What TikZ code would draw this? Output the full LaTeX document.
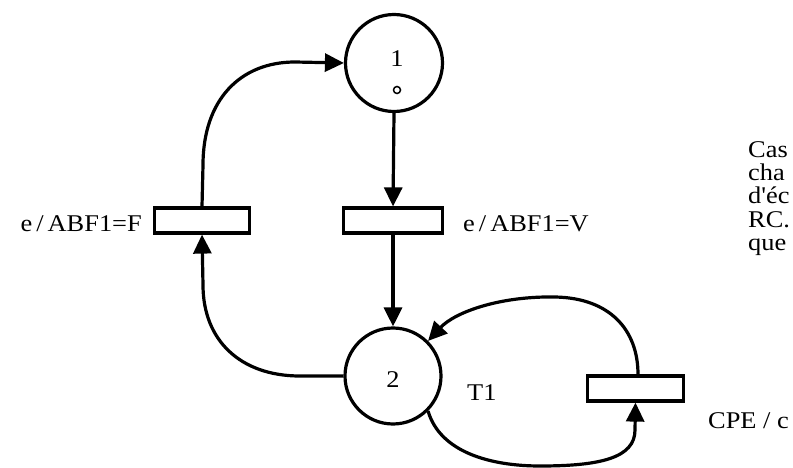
\documentclass[tikz,border=0pt]{standalone}
\usepackage{fontspec}
\setmainfont{Liberation Serif}[FakeStretch=1.1]
\newfontfamily\plainserif{Liberation Serif}[FakeStretch=1.1]
\usetikzlibrary{arrows.meta}
\tikzset{
  place/.style={circle, draw, line width=3.2pt, inner sep=0pt},
  trans/.style={rectangle, draw, line width=3.2pt, minimum height=25pt, inner sep=0pt},
  arr/.style={line width=3.2pt, -{Triangle[length=19pt,width=18pt]}},
  lbl/.style={inner sep=0pt, font=\fontsize{24}{26}\selectfont},
  tokenmark/.style={circle, draw, line width=1.5pt, minimum size=7pt, inner sep=0pt}
}
\begin{document}
\begin{tikzpicture}[x=1pt,y=-1pt]
\clip (0,0) rectangle (793,468);
\fill[white] (0,0) rectangle (793,468);
% places
\node[place, minimum size=97pt] (p1) at (394,63) {};
\node[lbl, anchor=base] (p1lab) at (397,67) {1};
\node[tokenmark] (tok) at (397,90) {};
\node[place, minimum size=96pt] (p2) at (393,376) {};
\node[lbl, anchor=base] (p2lab) at (393,387) {2};
% transitions
\node[trans, minimum width=99pt] (tv) at (393,220.5) {};
\node[trans, minimum width=95pt] (tf) at (202,220.5) {};
\node[trans, minimum width=96pt] (tc) at (635.5,388.5) {};
% labels
\node[lbl, anchor=base east] (lf) at (142,231) {e\,/\,ABF1=F};
\node[lbl, anchor=base west] (lv) at (463,232) {e\,/\,ABF1=V};
\node[lbl, anchor=base west] (lt) at (467,400) {T1};
\node[lbl, anchor=base west] (lc) at (708,428) {CPE / c};
\node[lbl, anchor=base west] (r1) at (748,158) {Cas};
\node[lbl, anchor=base west] (r2) at (748,181) {cha};
\node[lbl, anchor=base west] (r3) at (748,204) {\plainserif d'éc};
\node[lbl, anchor=base west] (r4) at (748,227) {RC.};
\node[lbl, anchor=base west] (r5) at (748,250) {que};
% arcs
\draw[arr] (p1.south) -- (tv.north);
\draw[arr] (tv.south) -- (p2.north);
\draw[arr] (p2.west) -- (300,376) .. controls (240,376) and (203,340) .. (203,285) -- (tf.south);
\draw[arr] (tf.north) -- (203,165) .. controls (203,100) and (240,62) .. (295,62) -- (p1.west);
\draw[arr] ([xshift=2.5pt]tc.north) .. controls (638,330) and (610,298) .. (555,297)
   .. controls (500,296) and (455,312) .. (p2.45);
\draw[arr] (p2.-45) .. controls (440,452) and (490,466) .. (540,466)
   .. controls (600,466) and (635,458) .. (635,430) -- (tc.south);
\end{tikzpicture}
\end{document}
